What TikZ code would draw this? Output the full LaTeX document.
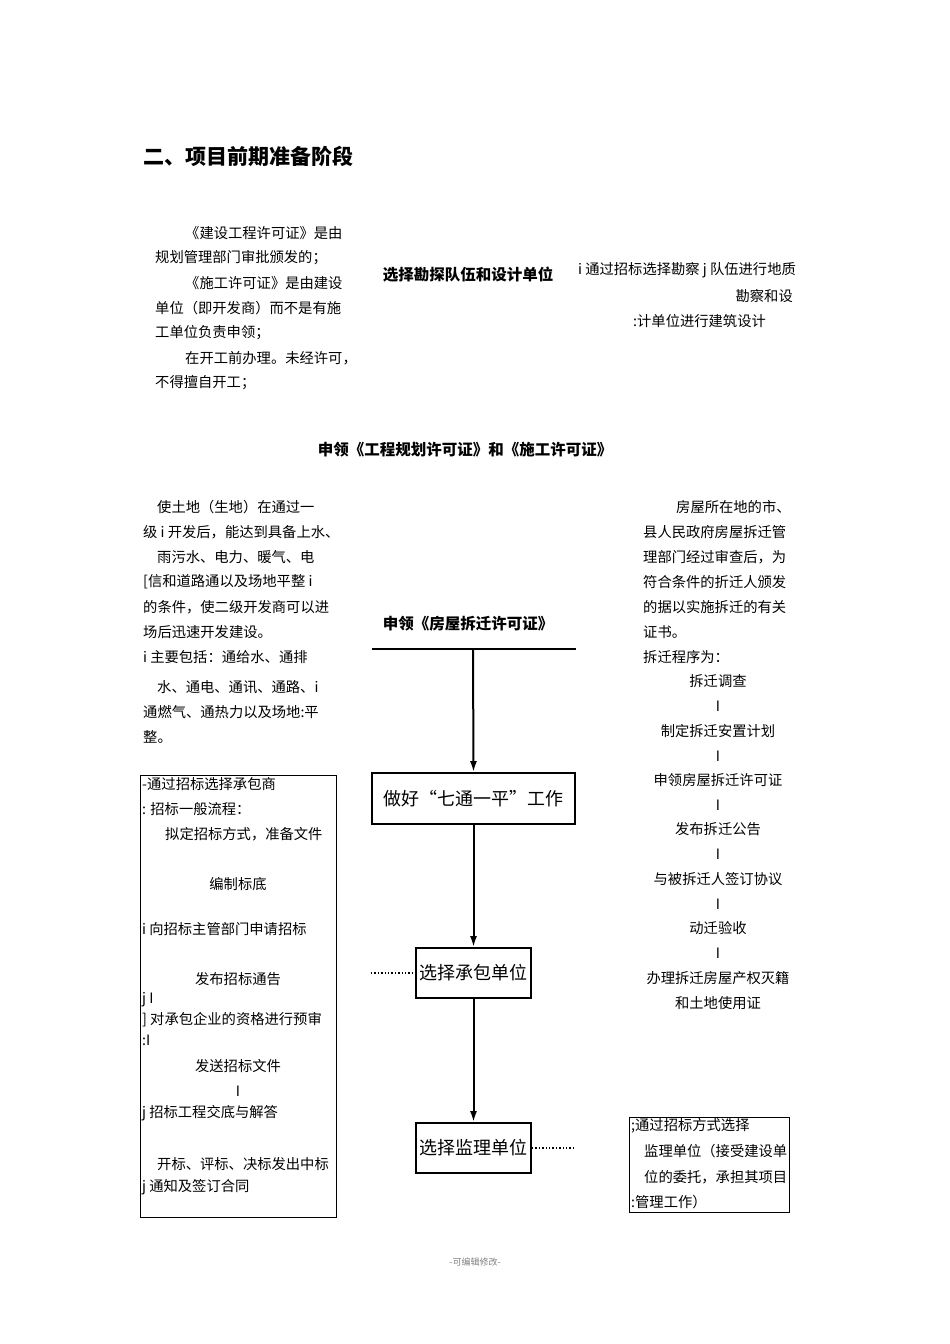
\documentclass[tikz,border=0pt]{standalone}
\usepackage{fontspec}
\usetikzlibrary{arrows.meta}
\setmainfont{Noto Sans CJK SC}
\begin{document}
\begin{tikzpicture}[x=1pt,y=-1pt,
 t/.style={inner sep=0pt,anchor=west,font=\fontsize{14.3}{16}\selectfont},
 c/.style={inner sep=0pt,font=\fontsize{14.3}{16}\selectfont},
 hb/.style={inner sep=0pt,font=\fontsize{15.5}{18}\selectfont\bfseries},
 bx/.style={draw,line width=1.8pt},
 ar/.style={line width=2pt,-{Latex[length=11pt,width=7pt]}},
 dt/.style={line width=1.4pt,dotted}]
\useasboundingbox (0,0) rectangle (950,1344);
\node[anchor=west,inner sep=0pt,font=\fontsize{21}{24}\selectfont\bfseries] (title) at (143,156) {二、项目前期准备阶段};
% left top
\node[t] (a1) at (185,233) {《建设工程许可证》是由};
\node[t] (a2) at (155,258) {规划管理部门审批颁发的；};
\node[t] (a3) at (185,283) {《施工许可证》是由建设};
\node[t] (a4) at (155,308) {单位（即开发商）而不是有施};
\node[t] (a5) at (155,333) {工单位负责申领；};
\node[t] (a6) at (185,358) {在开工前办理。未经许可，};
\node[t] (a7) at (155,383) {不得擅自开工；};
\node[hb] (m1) at (468,275) {选择勘探队伍和设计单位};
\node[t] (b1) at (578,270) {i 通过招标选择勘察 j 队伍进行地质};
\node[t,anchor=east] (b2) at (793,296) {勘察和设};
\node[t] (b3) at (633,321) {:计单位进行建筑设计};
\node[hb] (m2) at (465,450) {申领《工程规划许可证》和《施工许可证》};
% left mid
\node[t] (l1) at (157,507) {使土地（生地）在通过一};
\node[t] (l2) at (143,532) {级 i 开发后，能达到具备上水、};
\node[t] (l3) at (157,557) {雨污水、电力、暖气、电};
\node[t] (l4) at (143,582) {[信和道路通以及场地平整 i};
\node[t] (l5) at (143,607) {的条件，使二级开发商可以进};
\node[t] (l6) at (143,632) {场后迅速开发建设。};
\node[t] (l7) at (143,657) {i 主要包括：通给水、通排};
\node[t] (l8) at (157,687) {水、通电、通讯、通路、i};
\node[t] (l9) at (143,712) {通燃气、通热力以及场地:平};
\node[t] (l10) at (143,737) {整。};
% right mid
\node[t] (r1) at (676,507) {房屋所在地的市、};
\node[t] (r2) at (643,532) {县人民政府房屋拆迁管};
\node[t] (r3) at (643,557) {理部门经过审查后，为};
\node[t] (r4) at (643,582) {符合条件的折迁人颁发};
\node[t] (r5) at (643,607) {的据以实施拆迁的有关};
\node[t] (r6) at (643,632) {证书。};
\node[t] (r7) at (643,657) {拆迁程序为：};
\node[c] (s1) at (718,681) {拆迁调查};
\node[c] (s1i) at (718,706) {I};
\node[c] (s2) at (718,731) {制定拆迁安置计划};
\node[c] (s2i) at (718,756) {I};
\node[c] (s3) at (718,780) {申领房屋拆迁许可证};
\node[c] (s3i) at (718,805) {I};
\node[c] (s4) at (718,829) {发布拆迁公告};
\node[c] (s4i) at (718,854) {I};
\node[c] (s5) at (718,879) {与被拆迁人签订协议};
\node[c] (s5i) at (718,904) {I};
\node[c] (s6) at (718,928) {动迁验收};
\node[c] (s6i) at (718,953) {I};
\node[c] (s7) at (718,978) {办理拆迁房屋产权灭籍};
\node[c] (s8) at (718,1003) {和土地使用证};
% center flow
\node[hb] (m3) at (468,624) {申领《房屋拆迁许可证》};
\coordinate (h1) at (372,649); \coordinate (h2) at (576,649); \coordinate (hm) at (473,649);
\draw[line width=1.8pt] (h1) -- (h2);
\node[bx,minimum width=203pt,minimum height=51pt,font=\fontsize{18}{20}\selectfont] (n1) at (473.5,798.5) {做好“七通一平”工作};
\node[bx,minimum width=115pt,minimum height=50pt,font=\fontsize{18}{20}\selectfont] (n2) at (473.5,973) {选择承包单位};
\node[bx,minimum width=115pt,minimum height=50pt,font=\fontsize{18}{20}\selectfont] (n3) at (473.5,1148) {选择监理单位};
\draw[ar] (hm) -- (n1.north);
\draw[ar] (n1) -- (n2);
\draw[ar] (n2) -- (n3);
% left box
\draw[line width=0.6pt] (140,775) rectangle (336,1217);
\coordinate (dl) at (371,973);
\draw[dt] (dl) -- (n2.west);
\coordinate (dr) at (575,1148);
\draw[dt] (n3.east) -- (dr);
\node[t] (p1) at (142,784) {-通过招标选择承包商};
\node[t] (p2) at (142,809) {: 招标一般流程：};
\node[t] (p3) at (165,834) {拟定招标方式，准备文件};
\node[c] (p4) at (238,884) {编制标底};
\node[t] (p5) at (142,929) {i 向招标主管部门申请招标};
\node[c] (p6) at (238,979) {发布招标通告};
\node[t] (p7) at (142,1000) {j I};
\node[t] (p8) at (142,1020) {] 对承包企业的资格进行预审};
\node[t] (p9) at (142,1040) {:I};
\node[c] (p10) at (238,1066) {发送招标文件};
\node[c] (p11) at (238,1091) {I};
\node[t] (p12) at (142,1113) {j 招标工程交底与解答};
\node[t] (p13) at (157,1164) {开标、评标、决标发出中标};
\node[t] (p14) at (142,1187) {j 通知及签订合同};
% right box
\node[draw,line width=0.6pt,minimum width=160pt,minimum height=95pt] (rb) at (709,1164.5) {};
\node[t] (q1) at (631,1126) {;通过招标方式选择};
\node[t] (q2) at (644,1151) {监理单位（接受建设单};
\node[t] (q3) at (644,1177) {位的委托，承担其项目};
\node[t] (q4) at (631,1202) {:管理工作）};
\node[inner sep=0pt,text=gray,font=\fontsize{9}{10}\selectfont] (ft) at (475,1262) {-可编辑修改-};
\end{tikzpicture}
\end{document}
